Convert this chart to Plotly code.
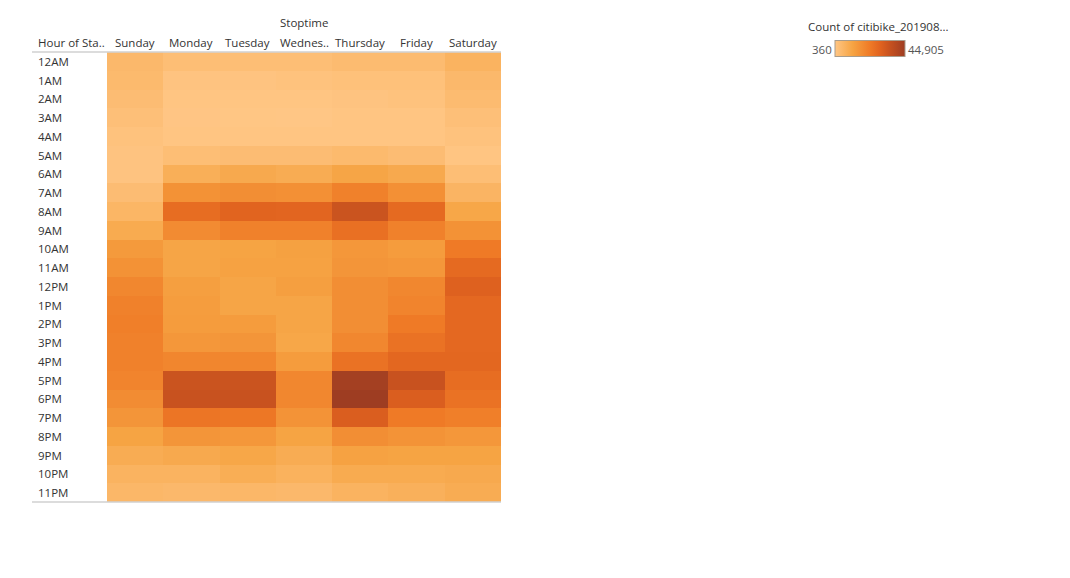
import plotly.graph_objects as go

days = ["Sunday", "Monday", "Tuesday", "Wednesday", "Thursday", "Friday", "Saturday"]
day_labels = ["Sunday", "Monday", "Tuesday", "Wednes..", "Thursday", "Friday", "Saturday"]
hours = ["12AM", "1AM", "2AM", "3AM", "4AM", "5AM", "6AM", "7AM", "8AM", "9AM", "10AM", "11AM",
         "12PM", "1PM", "2PM", "3PM", "4PM", "5PM", "6PM", "7PM", "8PM", "9PM", "10PM", "11PM"]

# counts per hour (rows) for Sun..Sat (columns)
counts = [
    [4815, 3033, 3033, 3033, 3924, 3924, 6596],
    [4369, 1251, 1251, 1696, 2142, 2142, 4815],
    [3478, 805, 805, 805, 1251, 1696, 3924],
    [2587, 580, 470, 360, 805, 805, 2587],
    [1696, 805, 805, 805, 805, 805, 1696],
    [1251, 3033, 3478, 3478, 4369, 3478, 805],
    [1251, 7933, 9714, 8824, 11051, 9714, 3033],
    [3478, 16396, 17287, 16842, 20851, 16842, 6151],
    [5705, 26196, 28869, 28423, 34660, 27087, 10605],
    [9269, 18178, 20851, 20851, 25305, 20851, 16396],
    [14169, 11051, 11496, 12387, 15060, 13724, 22633],
    [16396, 11051, 11942, 11942, 15505, 15060, 27087],
    [19069, 12833, 11051, 12833, 17287, 19069, 29760],
    [20851, 13278, 11051, 11051, 17287, 19960, 27532],
    [21296, 13724, 13724, 11051, 17287, 22633, 27532],
    [20851, 15060, 15505, 10605, 19069, 24860, 27532],
    [20851, 19514, 19514, 13724, 24860, 27978, 27978],
    [19960, 34660, 34660, 19069, 43569, 35105, 26196],
    [17733, 35105, 35105, 19069, 44905, 30651, 24860],
    [15505, 23969, 23523, 15951, 30651, 22633, 21296],
    [11496, 15505, 15060, 11496, 17287, 15951, 15060],
    [8824, 9714, 10605, 8824, 11942, 11496, 11496],
    [6596, 6596, 8378, 7042, 9269, 9269, 9714],
    [5260, 4815, 5260, 4815, 6596, 7487, 8824],
]

colorscale = [
    [0.0, "#ffc685"],
    [0.25, "#f6a443"],
    [0.5, "#ef7a26"],
    [0.65, "#e0621f"],
    [0.8, "#c4501f"],
    [1.0, "#9e3d22"],
]

W, H = 1070, 578
L, R, T, B = 107, 1070 - 501, 52, 578 - 502
pw, ph = W - L - R, H - T - B

def px(x):
    return (x - L) / pw

def py(y):
    return (H - B - y) / ph

zmin = min(min(r) for r in counts)
zmax = max(max(r) for r in counts)

fig = go.Figure(go.Heatmap(
    z=counts, x=days, y=hours,
    colorscale=colorscale, zmin=zmin, zmax=zmax,
    xgap=0, ygap=0,
    colorbar=dict(
        orientation="h", lenmode="pixels", len=70, thickness=16,
        x=px(870), xanchor="center", y=py(49), yanchor="middle",
        showticklabels=False, ticks="",
        outlinecolor="#a89c8c", outlinewidth=1,
        xpad=0, ypad=0,
    ),
    hovertemplate="%{y} %{x}: %{z:,}<extra></extra>",
))

font = "Open Sans, Lato, Arial, sans-serif"
fs = 11.5
txt = "#333333"

fig.update_layout(
    width=W, height=H,
    margin=dict(l=L, r=R, t=T, b=B, pad=0),
    paper_bgcolor="white", plot_bgcolor="white",
    font=dict(family=font, size=fs, color=txt),
    xaxis=dict(showticklabels=False, showgrid=False,
               zeroline=False, showline=False, ticks=""),
    yaxis=dict(autorange="reversed", showticklabels=False, showgrid=False,
               zeroline=False, showline=False, ticks=""),
    showlegend=False,
)

# column headers
for d, lab in zip(days, day_labels):
    fig.add_annotation(x=d, y=py(43), xref="x", yref="paper", text=lab, showarrow=False,
                       xanchor="center", yanchor="middle", font=dict(size=fs, color=txt))

# row labels
for h in hours:
    fig.add_annotation(x=px(36), y=h, xref="paper", yref="y", text=h, showarrow=False,
                       xanchor="left", yanchor="middle", font=dict(size=fs, color=txt))

fig.add_annotation(x=px(36), y=py(43), xref="paper", yref="paper", text="Hour of Sta..",
                   showarrow=False, xanchor="left", yanchor="middle",
                   font=dict(size=fs, color=txt))
fig.add_annotation(x=px(304), y=py(23), xref="paper", yref="paper", text="Stoptime",
                   showarrow=False, xanchor="center", yanchor="middle",
                   font=dict(size=fs, color=txt))

# legend texts
fig.add_annotation(x=px(806), y=py(26), xref="paper", yref="paper",
                   text="Count of citibike_201908...", showarrow=False,
                   xanchor="left", yanchor="middle", font=dict(size=fs, color=txt))
fig.add_annotation(x=px(834), y=py(49), xref="paper", yref="paper",
                   text=f"{zmin:,}", showarrow=False,
                   xanchor="right", yanchor="middle", font=dict(size=fs, color="#555555"))
fig.add_annotation(x=px(906), y=py(49), xref="paper", yref="paper",
                   text=f"{zmax:,}", showarrow=False,
                   xanchor="left", yanchor="middle", font=dict(size=fs, color="#555555"))

# header / footer rules
for yy in (52, 502):
    fig.add_shape(type="line", xref="paper", yref="paper", x0=px(32), x1=px(501),
                  y0=py(yy), y1=py(yy), line=dict(color="#d0d0d0", width=1.5))

fig.write_html("out.html")
